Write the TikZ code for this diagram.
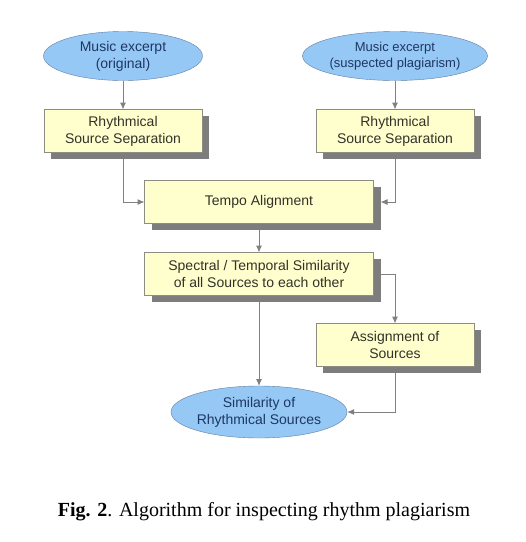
\documentclass[tikz,border=0pt]{standalone}
\usepackage{fontspec}
\setmainfont{Liberation Serif}
\newfontfamily\diagfont{Liberation Sans}
\usetikzlibrary{shapes.geometric, arrows.meta, shadows, backgrounds}
\definecolor{ellFill}{RGB}{150,200,245}
\definecolor{ellLine}{RGB}{95,125,165}
\definecolor{ellText}{RGB}{30,55,100}
\definecolor{boxFill}{RGB}{255,255,206}
\definecolor{boxLine}{RGB}{140,140,130}
\definecolor{boxText}{RGB}{50,50,40}
\definecolor{shadowGray}{RGB}{125,125,125}
\definecolor{lineGray}{RGB}{128,128,128}
\newcommand{\arrow}{{Latex[length=7pt, width=6pt]}}
\newcommand{\lineWidth}{1pt}
\newcommand{\boxWidth}{158pt}
\newcommand{\boxHeight}{43pt}
\newcommand{\wideWidth}{229pt}
\newcommand{\shadowShift}{7pt}
\tikzstyle{panel}=[inner sep=0, outer sep=0, align=center, font=\diagfont\fontsize{14}{17}\selectfont]
\tikzstyle{terminal}=[panel, ellipse, draw=ellLine, fill=ellFill, text=ellText, minimum width=159pt, minimum height=49pt]
\tikzstyle{process}=[panel, rectangle, draw=boxLine, fill=boxFill, text=boxText, minimum width=\boxWidth, minimum height=\boxHeight, drop shadow={shadow xshift=\shadowShift, shadow yshift=-6pt, fill=shadowGray, opacity=1}]
\tikzstyle{line}=[draw=lineGray, line width=\lineWidth]
\tikzstyle{arrow}=[line, -\arrow]

\begin{document}
\begin{tikzpicture}[x=1pt, y=-1pt]

% Frame
\useasboundingbox (0,0) rectangle (526,542);

% Inputs
\node[terminal] (musicOrig) at (123,56) {Music excerpt\\(original)};
\node[terminal, font=\diagfont\fontsize{13}{16}\selectfont, minimum width=156pt] (musicSusp) at (395,56) {Music excerpt\\(suspected plagiarism)};

% Steps
\node[process] (sepOrig) at (123,131) {Rhythmical\\Source Separation};
\node[process] (sepSusp) at (395,131) {Rhythmical\\Source Separation};
\node[process, minimum width=\wideWidth] (tempo) at (259,202) {Tempo Alignment};
\node[process, minimum width=\wideWidth] (simil) at (259,274) {Spectral / Temporal Similarity\\of all Sources to each other};
\node[process] (assign) at (395,345) {Assignment of\\Sources};

% Result
\node[terminal, minimum width=160pt, minimum height=52pt] (result) at (259,412) {Similarity of\\Rhythmical Sources};

% Connectors
\begin{pgfonlayer}{background}
  \draw[arrow] (musicOrig) -- (sepOrig);
  \draw[arrow] (musicSusp) -- (sepSusp);
  \draw[arrow] (sepOrig.south) |- (tempo.west);
  \draw[arrow] (sepSusp.south) |- ([xshift=\shadowShift]tempo.east);
  \draw[arrow] (tempo) -- (simil);
  \draw[arrow] (simil.east) -| (assign.north);
  \draw[arrow] (simil) -- (result);
  \draw[arrow] (assign.south) |- (result.east);
\end{pgfonlayer}

% Caption
\node[font=\fontsize{20}{24}\selectfont] (caption) at (264,512) {\textbf{Fig. 2}. Algorithm for inspecting rhythm plagiarism};

\end{tikzpicture}
\end{document}
